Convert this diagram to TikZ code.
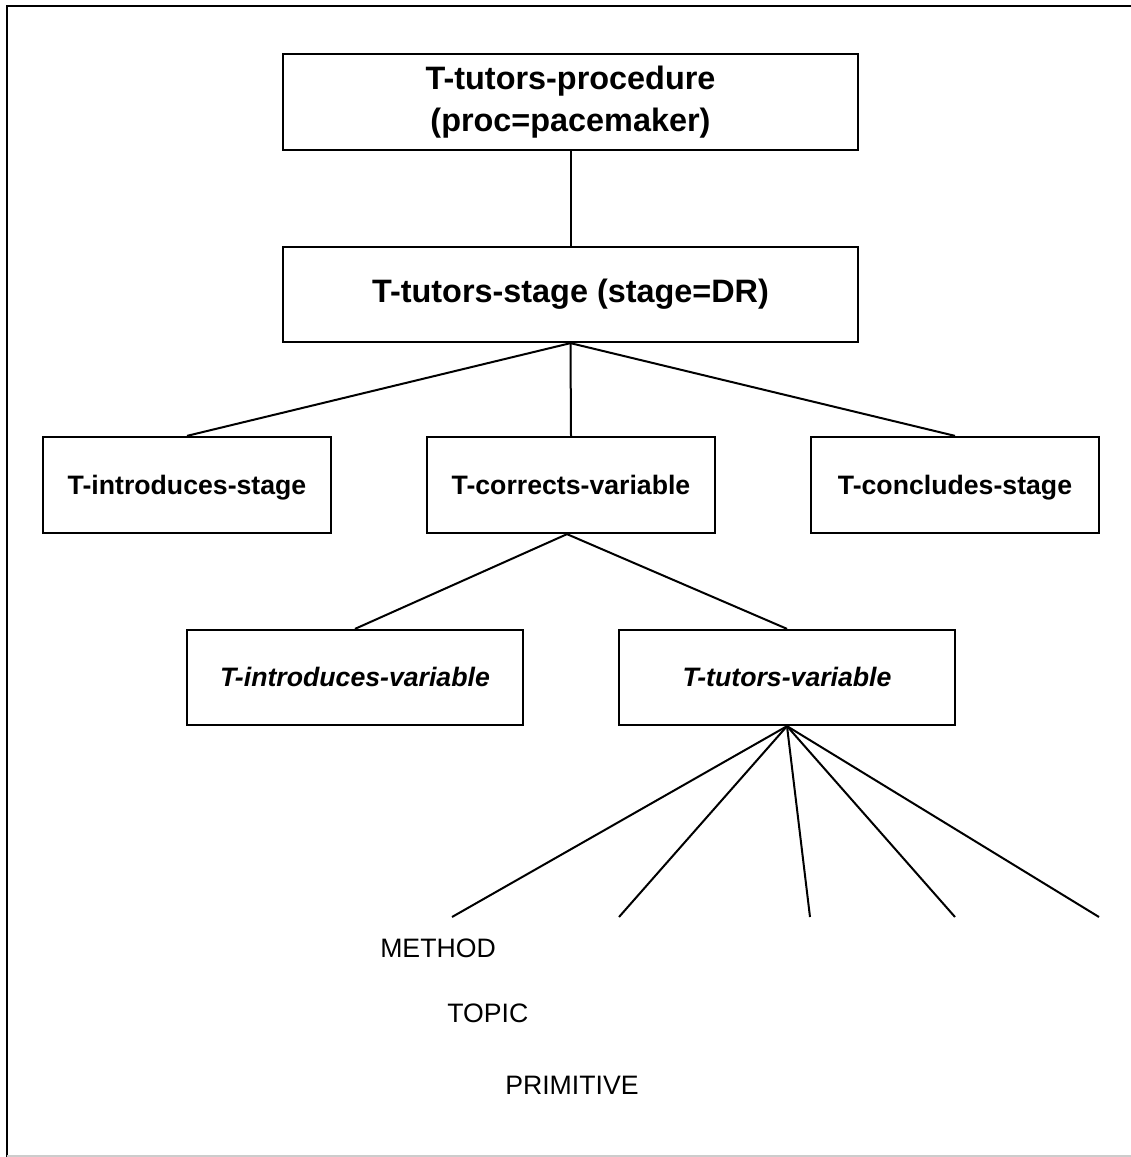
\documentclass[tikz,border=0pt]{standalone}
\usepackage{fontspec}
\setmainfont{Liberation Sans}
\begin{document}
\begin{tikzpicture}[x=0.75pt,y=-0.75pt,
  basebox/.style={draw,line width=1.7pt,inner sep=0pt,align=center},
  box/.style={basebox,text height=18pt,text depth=4pt,font=\fontsize{20}{31}\selectfont\bfseries},
  bigbox/.style={basebox,font=\fontsize{24.3}{31}\selectfont\bfseries},
  ibox/.style={box,font=\fontsize{20}{31}\selectfont\bfseries\itshape},
  conn/.style={line width=1.5pt},
  lbl/.style={inner sep=0pt,font=\fontsize{20}{24}\selectfont}]
\useasboundingbox (0,0) rectangle (1131,1157);
\fill[white] (0,0) rectangle (1131,1157);
% outer frame
\draw[line width=2.2pt] (7,1157) -- (7,6) -- (1131,6);
\draw[line width=1.5pt,black!20] (7,1156) -- (1131,1156);
% boxes
\node[bigbox,minimum width={575*0.75pt},minimum height={96*0.75pt}] (proc) at (570.5,102) {T-tutors-procedure\\(proc=pacemaker)};
\node[bigbox,minimum width={575*0.75pt},minimum height={95*0.75pt}] (stage) at (570.5,294.5) {T-tutors-stage (stage=DR)};
\node[box,minimum width={288*0.75pt},minimum height={96*0.75pt}] (intro) at (187,485) {T-introduces-stage};
\node[box,minimum width={288*0.75pt},minimum height={96*0.75pt}] (corr) at (571,485) {T-corrects-variable};
\node[box,minimum width={288*0.75pt},minimum height={96*0.75pt}] (concl) at (955,485) {T-concludes-stage};
\node[ibox,minimum width={336*0.75pt},minimum height={95*0.75pt}] (introvar) at (355,677.5) {T-introduces-variable};
\node[ibox,minimum width={336*0.75pt},minimum height={95*0.75pt}] (tutvar) at (787,677.5) {T-tutors-variable};
% connectors
\draw[conn] (proc.south) -- (stage.north);
\draw[conn] (stage.south) -- (intro.north);
\draw[conn] (stage.south) -- (corr.north);
\draw[conn] (stage.south) -- (concl.north);
\coordinate (cb) at ([xshift=-3pt]corr.south);
\draw[conn] (cb) -- (introvar.north);
\draw[conn] (cb) -- (tutvar.north);
\coordinate (f1) at (452,917);
\coordinate (f2) at (619,917);
\coordinate (f3) at (810,917);
\coordinate (f4) at (955,917);
\coordinate (f5) at (1099,917);
\foreach \p in {f1,f2,f3,f4,f5} \draw[conn] (tutvar.south) -- (\p);
% labels
\node[lbl,anchor=west] (method) at (380,948) {METHOD};
\node[lbl,anchor=west] (topic) at (447,1013) {TOPIC};
\node[lbl,anchor=west] (prim) at (505,1085) {PRIMITIVE};
\end{tikzpicture}
\end{document}
